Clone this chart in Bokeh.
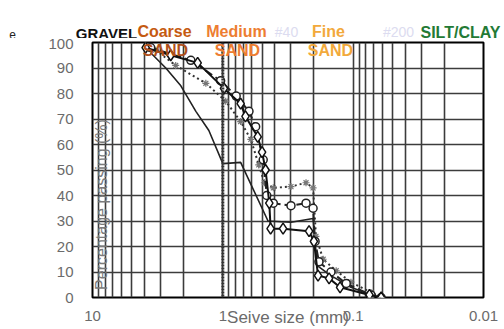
from bokeh.plotting import figure
from bokeh.layouts import column
from bokeh.models import Range1d, FixedTicker, Label, Span, CustomJSTickFormatter
from bokeh.embed import file_html
from bokeh.resources import INLINE

# Particle size distribution: sieve size (mm) vs percentage passing (%)
size_a = [3.58, 2.74, 2.10, 1.61, 1.28, 1.00, 0.73, 0.45, 0.30, 0.203, 0.189, 0.148, 0.104, 0.073, 0.061]
pass_a = [96, 90, 83, 73, 65.5, 52.5, 53, 30, 29.5, 31, 12.5, 8.6, 4, 1, 0]

size_b = [3.91, 2.51, 1.56, 0.98, 0.73, 0.67, 0.54, 0.50, 0.47, 0.44, 0.43, 0.345, 0.218, 0.20, 0.186, 0.153, 0.126, 0.075, 0.061]
pass_b = [98, 95, 92, 82, 76, 71, 63, 57, 50, 37, 27, 27, 26, 22, 8.6, 7.5, 4, 1, 0]

size_c = [3.58, 1.76, 1.04, 0.79, 0.63, 0.56, 0.49, 0.46, 0.41, 0.30, 0.23, 0.203, 0.196, 0.183, 0.148, 0.113, 0.073, 0.061]
pass_c = [98, 93, 85, 79, 73, 67, 54, 40, 37, 36, 37, 35, 22, 14, 10, 5.5, 1, 0]

size_d = [3.27, 2.30, 1.35, 0.95, 0.73, 0.61, 0.53, 0.48, 0.41, 0.30, 0.23, 0.203, 0.193, 0.17, 0.135, 0.104, 0.073, 0.061]
pass_d = [97, 91, 84, 77, 69, 62, 52, 45, 43, 43.5, 45, 43, 24, 15, 10.5, 6, 2, 0]

y_ticks = [0, 10, 20, 30, 40, 50, 60, 70, 80, 90, 100]
x_ticks = [10, 1, 0.1, 0.01]
grid_sizes = [k * 10.0 ** e for e in (-2, -1, 0) for k in range(1, 10)] + [10]

BAND_H = 38  # height of the strip carrying the soil-class headings

# ---- heading strip (pixel coordinates, origin top-left) ----
band = figure(width=504, height=BAND_H, x_range=Range1d(0, 504), y_range=Range1d(BAND_H, 0),
              x_axis_location=None, y_axis_location=None,
              output_backend="svg", toolbar_location=None, min_border=0)
band.outline_line_color = None
band.xgrid.visible = False
band.ygrid.visible = False
band.border_fill_color = "white"
# the strip spans the full width, so its frame must not be aligned with the chart below
if "frame_align" in band.properties():
    band.frame_align = False


def heading(fig, x, y, txt, color, size="16px", align="center", style="bold", angle=0.0):
    fig.add_layout(Label(x=x, y=y, x_units="canvas", y_units="canvas", text=txt,
                         angle=angle, text_align=align, text_baseline="middle",
                         text_font="Liberation Sans", text_font_size=size,
                         text_font_style=style, text_color=color))


heading(band, 12, 34, "e", "#222222", size="12px", style="normal")
heading(band, 106, 33, "GRAVEL", "#111111", size="15px")
heading(band, 164, 31, "Coarse", "#c55a11")
heading(band, 236, 31, "Medium", "#ed7d31")
heading(band, 286, 31, "#40", "#dcdcf0", size="14px", style="normal")
heading(band, 328, 31, "Fine", "#f2a93b")
heading(band, 398, 31, "#200", "#dcdcf0", size="14px", style="normal")
heading(band, 420, 32, "SILT/CLAY", "#237a35", align="left")

# ---- grading chart ----
p = figure(width=504, height=329 - BAND_H, x_axis_type="log",
           x_range=Range1d(10, 0.01), y_range=Range1d(0, 100),
           output_backend="svg", toolbar_location=None,
           min_border_left=92, min_border_right=21,
           min_border_top=4, min_border_bottom=32)

p.outline_line_color = "black"
p.outline_line_width = 2
p.background_fill_color = "white"
p.border_fill_color = "white"

p.xgrid.ticker = FixedTicker(ticks=grid_sizes)
p.ygrid.ticker = FixedTicker(ticks=y_ticks)
for g in (p.xgrid, p.ygrid):
    g.grid_line_color = "#3c3c3c"
    g.grid_line_width = 1.6
    g.grid_line_alpha = 1.0
p.add_layout(Span(location=1, dimension="height", line_color="#333333",
                  line_width=3, line_dash="2 1"))

p.yaxis.ticker = FixedTicker(ticks=y_ticks)
p.xaxis.ticker = FixedTicker(ticks=x_ticks)
p.xaxis.formatter = CustomJSTickFormatter(code="return String(tick);")
for ax in (p.xaxis, p.yaxis):
    ax.axis_line_color = None
    ax.major_tick_line_color = None
    ax.minor_tick_line_color = None
    ax.major_label_text_font = "Liberation Sans"
    ax.major_label_text_font_size = "15px"
    ax.major_label_text_color = "#6b6b6b"
p.yaxis.major_label_standoff = 13
p.xaxis.major_label_standoff = 7
p.xaxis.axis_label = "Seive size (mm)"
p.xaxis.axis_label_text_font = "Liberation Sans"
p.xaxis.axis_label_text_font_size = "17px"
p.xaxis.axis_label_text_font_style = "normal"
p.xaxis.axis_label_text_color = "#6b6b6b"
p.xaxis.axis_label_standoff = -16

# curves
p.line(size_a, pass_a, line_color="#222222", line_width=1.6)

p.line(size_d, pass_d, line_color="#333333", line_width=2, line_dash="2 3")
p.scatter(size_d, pass_d, marker="asterisk", size=7, line_color="#777777", line_width=1.2)

p.line(size_c, pass_c, line_color="#222222", line_width=2, line_dash="8 4")
p.scatter(size_c, pass_c, marker="circle", size=8, fill_color="white",
          line_color="#222222", line_width=1.5)

p.line(size_b, pass_b, line_color="#111111", line_width=2)
p.scatter(size_b, pass_b, marker="diamond", size=11, fill_color="white",
          line_color="#111111", line_width=1.5)

# texts inside the plotting area (canvas pixels of this figure)
heading(p, 101, 204 - BAND_H, "Percentage passing (%)", "#7a7a7a", size="16px",
        style="normal", angle=1.5708)
heading(p, 165, 50 - BAND_H, "SAND", "#b0501a")
heading(p, 237, 50 - BAND_H, "SAND", "#ed7d31")
heading(p, 330, 50 - BAND_H, "SAND", "#f2a93b")

layout = column(band, p, spacing=0)
open("out.html", "w").write(file_html(layout, INLINE))
